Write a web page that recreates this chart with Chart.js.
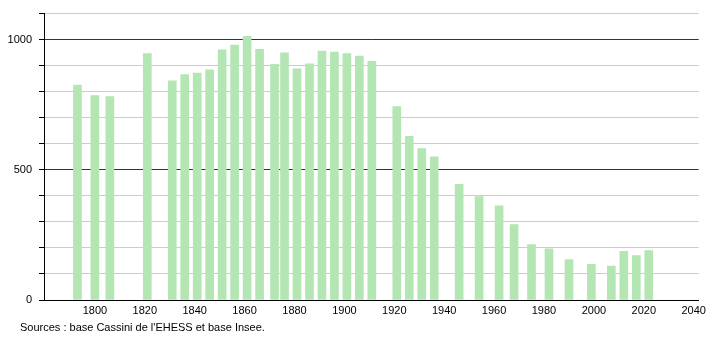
<!DOCTYPE html>
<html>
<head>
<meta charset="utf-8">
<script src="https://cdn.jsdelivr.net/npm/chart.js"></script>
<style>
	body { margin: 0; background: #fff; }
	#wrap { position: relative; width: 710px; height: 340px; }
	#source {
		position: absolute; left: 20px; top: 321px;
		font: 11px "Liberation Sans", Arial, sans-serif; color: #000;
	}
</style>
</head>
<body>
<div id="wrap">
	<canvas id="pop-chart" width="710" height="340"></canvas>
	<div id="source">Sources : base Cassini de l'EHESS et base Insee.</div>
</div>
<script>
// Census years and population values
const years = [1793, 1800, 1806, 1821, 1831, 1836, 1841, 1846, 1851, 1856,
	1861, 1866, 1872, 1876, 1881, 1886, 1891, 1896, 1901, 1906,
	1911, 1921, 1926, 1931, 1936, 1946, 1954, 1962, 1968, 1975,
	1982, 1990, 1999, 2007, 2012, 2017, 2022];
const population = [825, 785, 781, 946, 842, 866, 872, 884, 961, 979,
	1013, 963, 905, 949, 888, 907, 956, 952, 946, 937,
	917, 743, 629, 582, 550, 444, 397, 362, 290, 213,
	197, 155, 137, 130, 187, 171, 190];
const xTickStep = 20;
const yTickStep = 100;
const yLabelStep = 500;

const points = years.map((year, i) => ({ x: year, y: population[i] }));

const chartCanvas = document.querySelector("#pop-chart");

new Chart(chartCanvas, {
	type: 'bar',
	data: {
		datasets: [{
			data: points,
			backgroundColor: '#b3e6b3',
			barThickness: 8
		}]
	},
	options: {
		responsive: false,
		animation: false,
		devicePixelRatio: 1,
		layout: { padding: { top: 11, right: 10, left: 0, bottom: 0 } },
		plugins: {
			legend: { display: false },
			tooltip: { enabled: false }
		},
		scales: {
			x: {
				type: 'linear',
				offset: false,
				min: 1779.6,
				max: 2042,
				afterFit: scale => { scale.height = 40; },
				grid: { display: false, drawTicks: false },
				border: { display: true, color: '#000', width: 1 },
				ticks: {
					stepSize: xTickStep,
					includeBounds: false,
					autoSkip: false,
					maxRotation: 0,
					padding: 4,
					color: '#000',
					font: { family: '"Liberation Sans", Arial, sans-serif', size: 11 },
					callback: value => (value >= 1800 && value % xTickStep === 0) ? String(value) : ''
				}
			},
			y: {
				min: 0,
				max: 1100,
				afterFit: scale => { scale.width = 44; },
				border: { display: true, color: '#000', width: 1 },
				grid: {
					color: ctx => (ctx.tick && ctx.tick.value % yLabelStep === 0) ? '#333' : '#ccc',
					tickColor: '#000',
					tickLength: 5,
					lineWidth: 1
				},
				ticks: {
					stepSize: yTickStep,
					includeBounds: false,
					autoSkip: false,
					padding: 7,
					color: '#000',
					font: { family: '"Liberation Sans", Arial, sans-serif', size: 11 },
					callback: value => value % yLabelStep === 0 ? String(value) : ''
				}
			}
		}
	}
});
</script>
</body>
</html>
